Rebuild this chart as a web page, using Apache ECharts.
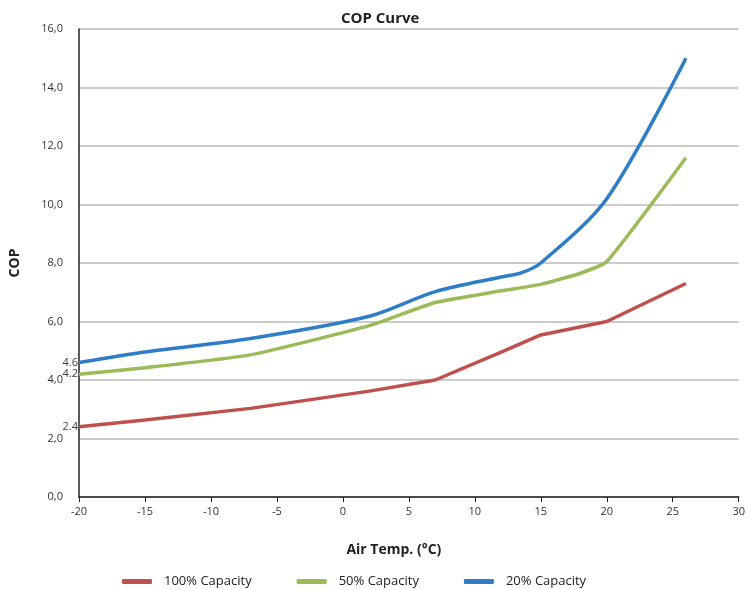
<!DOCTYPE html>
<html>
<head>
<meta charset="utf-8">
<script src="https://cdn.jsdelivr.net/npm/echarts@6/dist/echarts.min.js"></script>
<style>html,body{margin:0;padding:0;background:#fff}#c{width:748px;height:590px}</style>
</head>
<body>
<div id="c"></div>
<script>
const temps = [-20, -15, -7, 2, 7, 12, 15, 20, 26];
const cap100 = [2.4, 2.63, 3.03, 3.62, 4.0, 4.95, 5.54, 6.0, 7.3];
const temps50 = [-20, -15, -7, 2, 7, 12, 15, 18, 20, 26];
const cap50 = [4.2, 4.42, 4.86, 5.86, 6.65, 7.05, 7.27, 7.65, 8.05, 11.6];
const temps20 = [-20, -15, -7, 2, 7, 12, 13.5, 15, 20, 26];
const cap20 = [4.6, 4.96, 5.42, 6.18, 7.02, 7.52, 7.66, 8.0, 10.2, 15.0];
const seriesNames = ['100% Capacity', '50% Capacity', '20% Capacity'];
const colors = ['#c0504d', '#9bbb59', '#2e7dc6'];

const FONT = '"Open Sans", "DejaVu Sans", sans-serif';
function pairs(xs, ys) {
  return ys.map((y, i) => {
    const item = { value: [xs[i], y] };
    if (i === 0) {
      item.label = { show: true, position: 'left', distance: 1, formatter: y.toFixed(1),
        color: '#404040', fontSize: 11, fontFamily: FONT };
    }
    return item;
  });
}
function line(idx, xs, ys, smooth) {
  return { name: seriesNames[idx], type: 'line', data: pairs(xs, ys), smooth: smooth,
    symbol: 'circle', symbolSize: 0, showSymbol: true, z: 3,
    label: { show: false },
    lineStyle: { width: 3.5, color: colors[idx] }, itemStyle: { color: colors[idx] } };
}
const chart = echarts.init(document.getElementById('c'));
chart.setOption({
  animation: false,
  title: { text: 'COP Curve', left: 336, top: 6,
    textStyle: { fontFamily: FONT, fontSize: 15, fontWeight: 'bold', color: '#222' } },
  grid: { left: 78, right: 8, top: 29, bottom: 93 },
  legend: {
    left: 122, top: 575, padding: 0, itemWidth: 30, itemHeight: 5, itemGap: 45, icon: 'roundRect',
    textStyle: { fontFamily: FONT, fontSize: 13, color: '#222', padding: [0, 0, 0, 7] },
    data: seriesNames.map((n, i) => ({ name: n, itemStyle: { color: colors[i] } }))
  },
  xAxis: {
    type: 'value', min: -20, max: 30, interval: 5,
    name: 'Air Temp. (\u00B0C)', nameLocation: 'middle', nameGap: 46,
    nameTextStyle: { fontFamily: FONT, fontSize: 14, fontWeight: 'bold', color: '#222', padding: [0, 30, 0, 0] },
    axisLine: { onZero: false, lineStyle: { color: '#222', width: 1.5 } },
    axisTick: { show: true, length: 5, lineStyle: { color: '#222' } },
    axisLabel: { fontFamily: FONT, fontSize: 11, color: '#333', margin: 9 },
    splitLine: { show: false }
  },
  yAxis: {
    type: 'value', min: 0, max: 16, interval: 2,
    name: 'COP', nameLocation: 'middle', nameGap: 57, nameRotate: 90,
    nameTextStyle: { fontFamily: FONT, fontSize: 14, fontWeight: 'bold', color: '#222' },
    axisLine: { show: true, onZero: false, lineStyle: { color: '#222', width: 1.5 } },
    axisTick: { show: false },
    axisLabel: { fontFamily: FONT, fontSize: 11, color: '#333', margin: 16,
      formatter: v => v.toFixed(1).replace('.', ',') },
    splitLine: { lineStyle: { color: '#bbbbbb', width: 1.5 } }
  },
  series: [
    line(0, temps, cap100, false),
    line(1, temps50, cap50, 0.15),
    line(2, temps20, cap20, 0.3)
  ]
});
</script>
</body>
</html>
